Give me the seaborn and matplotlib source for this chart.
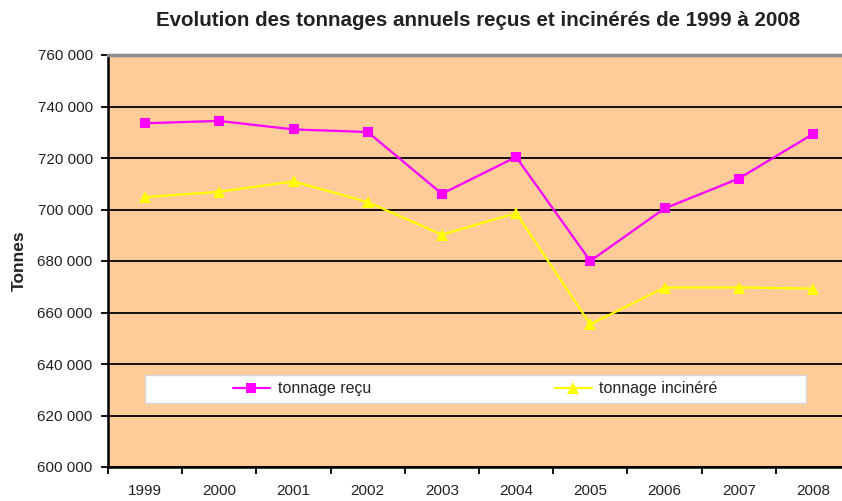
import pandas as pd
import seaborn as sns
from matplotlib import pyplot as plt
from matplotlib.patches import Rectangle
from matplotlib.ticker import FuncFormatter, FixedLocator

# Data
years = ['1999', '2000', '2001', '2002', '2003', '2004', '2005', '2006', '2007', '2008']
tonnage_recu = [733500, 734400, 731100, 730100, 706100, 720400, 680000, 700400, 712000, 729300]
tonnage_incinere = [704800, 706900, 710900, 702900, 690200, 698600, 655400, 669700, 669700, 669300]

df = pd.DataFrame({'annee': years, 'recu': tonnage_recu, 'incinere': tonnage_incinere})

sns.set_style("white")
plt.rcParams['font.family'] = ['Liberation Sans', 'DejaVu Sans']

fig = plt.figure(figsize=(8.42, 5.01), dpi=100)
# plot area runs a little past the right edge, as in the original crop
ax = fig.add_axes([108 / 842, 34 / 501, 742 / 842, 412 / 501])
ax.set_facecolor('#FFCC99')

sns.lineplot(data=df, x='annee', y='recu', ax=ax, color='#FF00FF', lw=1.6,
             marker='s', markersize=7, markeredgewidth=0, label='tonnage reçu', sort=False)
sns.lineplot(data=df, x='annee', y='incinere', ax=ax, color='#FFFF00', lw=1.6,
             marker='^', markersize=8, markeredgewidth=0, label='tonnage incinéré', sort=False)

ax.set_xlim(-0.5, len(years) - 0.5)
ax.set_ylim(600000, 760000)
ax.set_yticks(range(600000, 760001, 20000))
ax.yaxis.set_major_formatter(FuncFormatter(lambda v, p: f"{int(v):,}".replace(",", " ")))
ax.yaxis.grid(True, color='black', lw=1.3)
ax.set_axisbelow(True)

# category ticks between the years
ax.xaxis.set_minor_locator(FixedLocator([i - 0.5 for i in range(len(years) + 1)]))
ax.tick_params(axis='x', which='major', length=0, pad=12, labelsize=11, labelcolor='#222222')
ax.tick_params(axis='x', which='minor', length=5, width=1.3, color='black', direction='out', bottom=True)
ax.tick_params(axis='y', length=5, width=1.3, color='black', direction='out', left=True, pad=6,
               labelsize=11, labelcolor='#222222')

for s in ['left', 'bottom']:
    ax.spines[s].set_color('black')
    ax.spines[s].set_linewidth(1.8)
ax.spines['top'].set_color('#8C8C8C')
ax.spines['top'].set_linewidth(2.5)
ax.spines['right'].set_visible(False)

ax.set_xlabel('')
ax.set_ylabel('Tonnes', fontsize=12.5, fontweight='bold', labelpad=8, color='#222222')

# white legend box
ax.add_patch(Rectangle((37 / 742, 64 / 412), 661 / 742, 28 / 412, transform=ax.transAxes,
                       facecolor='white', edgecolor='#D5D5D5', lw=1, zorder=3))
ax.legend(loc='center', bbox_to_anchor=(367.5 / 742, 78 / 412), ncol=2, frameon=False,
          fontsize=11.5, handlelength=2.3, handletextpad=0.5, columnspacing=11.5)

fig.text(478 / 842, 1 - 21 / 501, 'Evolution des tonnages annuels reçus et incinérés de 1999 à 2008',
         ha='center', va='center', fontsize=14.8, fontweight='bold', color='#222222')

plt.savefig('out.png', dpi=100)
